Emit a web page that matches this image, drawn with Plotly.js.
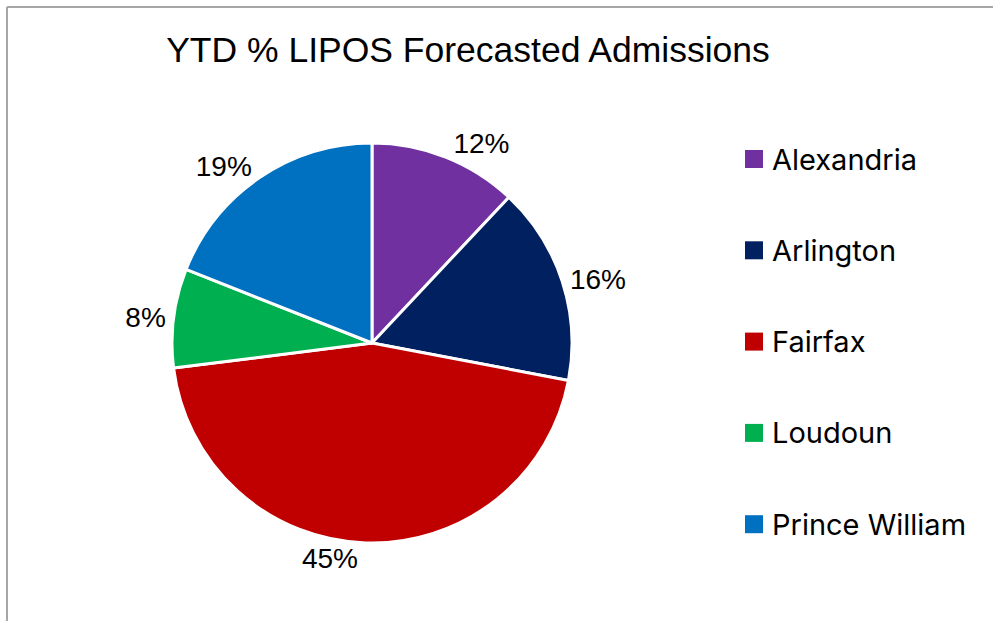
<!DOCTYPE html>
<html>
<head>
<meta charset="utf-8">
<script src="https://cdn.plot.ly/plotly-3.0.1.min.js"></script>
<style>
html,body{margin:0;padding:0;background:#fff;}
#chart{width:993px;height:621px;}
</style>
</head>
<body>
<div id="chart"></div>
<script>
// Data
const categories = ["Alexandria", "Arlington", "Fairfax", "Loudoun", "Prince William"];
const values = [12, 16, 45, 8, 19];
const colors = ["#7030A0", "#002060", "#C00000", "#00B050", "#0070C0"];

const W = 993, H = 621;
const px = x => x / W;
const py = y => 1 - y / H;

// Legend built from the category/colour arrays
const legendTop = 159, legendStep = 91.3;
const annotations = [];
const shapes = [
  {type: "line", xref: "paper", yref: "paper", x0: px(7), x1: 1.01, y0: py(7), y1: py(7), line: {color: "#a6a6a6", width: 2}},
  {type: "line", xref: "paper", yref: "paper", x0: px(7), x1: px(7), y0: py(7), y1: -0.01, line: {color: "#a6a6a6", width: 2}}
];
categories.forEach((c, i) => {
  const yc = legendTop + i * legendStep;
  shapes.push({type: "rect", xref: "paper", yref: "paper",
    x0: px(745), x1: px(763), y0: py(yc + 9), y1: py(yc - 9),
    fillcolor: colors[i], line: {width: 0}});
  annotations.push({xref: "paper", yref: "paper", x: px(770), y: py(yc),
    xanchor: "left", yanchor: "middle", showarrow: false, text: c,
    font: {family: "Inter, Open Sans, sans-serif", size: 29, color: "#000"}});
});

const trace = {
  type: "pie",
  labels: categories,
  values: values,
  sort: false,
  direction: "clockwise",
  rotation: 0,
  marker: {colors: colors, line: {color: "#ffffff", width: 3}},
  textinfo: "percent",
  texttemplate: "%{percent:.0%}",
  textposition: "outside",
  outsidetextfont: {family: "Liberation Sans, Arial, sans-serif", size: 28, color: "#000"},
  hoverinfo: "label+percent",
  showlegend: false,
  domain: {x: [px(172), px(572)], y: [py(543), py(143)]}
};

const layout = {
  width: W, height: H,
  margin: {l: 0, r: 0, t: 0, b: 0},
  paper_bgcolor: "#fff",
  showlegend: false,
  title: {text: "YTD % LIPOS Forecasted Admissions", x: px(468), xanchor: "center", y: py(50), yanchor: "middle",
    font: {family: "Liberation Sans, Arial, sans-serif", size: 35.5, color: "#000"}},
  shapes: shapes,
  annotations: annotations
};

Plotly.newPlot("chart", [trace], layout, {displayModeBar: false, staticPlot: true});
</script>
</body>
</html>
